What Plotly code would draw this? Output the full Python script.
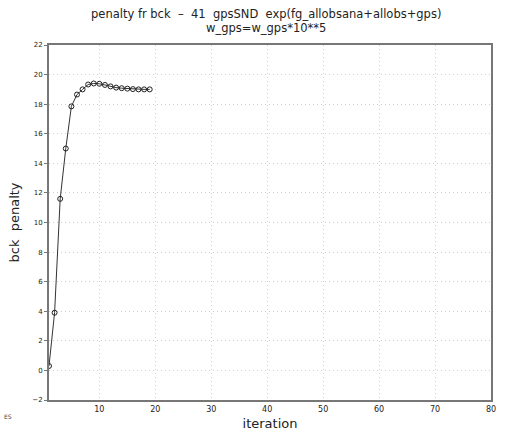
import plotly.graph_objects as go

iterations = list(range(1, 20))
penalty = [0.3, 3.9, 11.6, 15.0, 17.85, 18.65, 19.0, 19.33, 19.4, 19.38, 19.3, 19.2,
           19.12, 19.08, 19.05, 19.02, 19.0, 19.0, 19.0]
x_ticks = [10, 20, 30, 40, 50, 60, 70, 80]
y_ticks = list(range(-2, 23, 2))

title_line1 = "penalty fr bck  \u2013  41  gpsSND  exp(fg_allobsana+allobs+gps)"
title_line2 = "w_gps=w_gps*10**5"

fig = go.Figure()
fig.add_trace(go.Scatter(
    x=iterations, y=penalty, mode="lines+markers",
    line=dict(color="#333333", width=1),
    marker=dict(symbol="circle-open", size=5, color="#222222", line=dict(width=1)),
    showlegend=False,
))

font_family = "DejaVu Sans"
fig.update_layout(
    width=508, height=441,
    margin=dict(l=49, r=15, t=45, b=40),
    paper_bgcolor="white", plot_bgcolor="white",
    font=dict(family=font_family, color="#222222"),
    xaxis=dict(range=[1, 80], tickvals=x_ticks, ticks="", tickfont=dict(size=8),
               showgrid=True, gridcolor="#cfcfcf", griddash="1px,3px", gridwidth=1,
               showline=True, linecolor="#777777", linewidth=2, mirror=True,
               zeroline=False,
               title=dict(text="iteration", font=dict(size=13), standoff=6)),
    yaxis=dict(range=[-2, 22], tickvals=y_ticks, ticks="outside", ticklen=3,
               tickcolor="#777777", tickfont=dict(size=7),
               showgrid=True, gridcolor="#cfcfcf", griddash="1px,3px", gridwidth=1,
               showline=True, linecolor="#777777", linewidth=2, mirror=True,
               zeroline=False,
               title=dict(text="bck  penalty", font=dict(size=13), standoff=10)),
)
fig.add_annotation(text=title_line1, x=0.49, y=1.087, xref="paper", yref="paper",
                   showarrow=False, xanchor="center", yanchor="middle",
                   font=dict(size=11.5, color="#222222"))
fig.add_annotation(text=title_line2, x=0.49, y=1.049, xref="paper", yref="paper",
                   showarrow=False, xanchor="center", yanchor="middle",
                   font=dict(size=11.5, color="#222222"))
fig.add_annotation(text="ES", x=0, y=0, xref="paper", yref="paper",
                   xshift=-47, yshift=-22, showarrow=False,
                   font=dict(size=6, color="#444444"), xanchor="left")

fig.write_html("out.html")
